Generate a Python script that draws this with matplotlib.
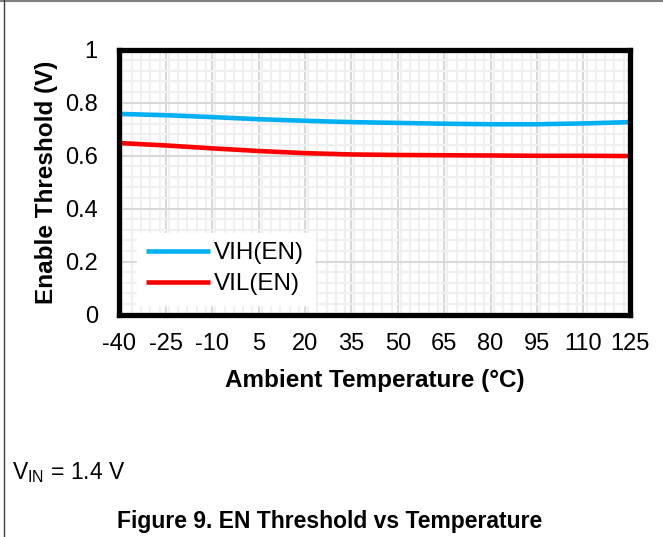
import numpy as np
import matplotlib.pyplot as plt
from matplotlib.ticker import MultipleLocator
from matplotlib.lines import Line2D

plt.rcParams['font.family'] = ['Liberation Sans', 'DejaVu Sans']
plt.rcParams['axes.unicode_minus'] = False

temp = [-40, -25, -10, 5, 20, 35, 50, 65, 80, 95, 110, 125]
vih = [0.757, 0.752, 0.745, 0.737, 0.731, 0.726, 0.723, 0.720, 0.718, 0.718, 0.721, 0.726]
vil = [0.647, 0.638, 0.627, 0.617, 0.609, 0.604, 0.602, 0.601, 0.600, 0.599, 0.599, 0.598]
xticks = list(range(-40, 126, 15))
yticks = [0, 0.2, 0.4, 0.6, 0.8, 1]

fig = plt.figure(figsize=(6.63, 5.37), dpi=100)
ax = fig.add_axes([0.180, 0.4143, 0.770, 0.4935])

ax.plot(temp, vih, color='#00B0F0', lw=3.3, label='VIH(EN)', solid_capstyle='butt')
ax.plot(temp, vil, color='#FF0000', lw=3.3, label='VIL(EN)', solid_capstyle='butt')

ax.set_xlim(-40, 125)
ax.set_ylim(0, 1)
ax.set_xticks(xticks)
ax.set_yticks(yticks)
ax.set_yticklabels(['0', '0.2', '0.4', '0.6', '0.8', '1'])
ax.xaxis.set_minor_locator(MultipleLocator(3))
ax.yaxis.set_minor_locator(MultipleLocator(0.04))
ax.grid(which='major', color='#d9d9d9', lw=1.5)
ax.grid(which='minor', color='#f0f0f0', lw=1.5)
ax.set_axisbelow(True)
ax.tick_params(which='both', length=0, labelsize=17)
ax.tick_params(axis='x', pad=13.5)
ax.tick_params(axis='y', pad=15.5)

for s in ax.spines.values():
    s.set_linewidth(3.8)
    s.set_color('black')

ax.set_xlabel('Ambient Temperature (°C)', fontsize=17.5, fontweight='bold', labelpad=10)
ax.set_ylabel('Enable Threshold (V)', fontsize=17.5, fontweight='bold', labelpad=5)

leg = ax.legend(loc='lower left', bbox_to_anchor=(0.034, 0.036), fontsize=17.5,
                frameon=True, fancybox=False, framealpha=1, edgecolor='white',
                facecolor='white', handlelength=2.6, handletextpad=0.18,
                labelspacing=0.37, borderpad=0.4, borderaxespad=0)

fig.text(12 / 663, 1 - 479 / 537, r'V$_{\mathregular{IN}}$ = 1.4 V', fontsize=16.5,
         va='baseline', ha='left')
fig.text(330 / 663, 1 - 528 / 537, 'Figure 9. EN Threshold vs Temperature',
         fontsize=16.5, fontweight='bold', ha='center', va='baseline')

# page border
fig.add_artist(Line2D([0, 1], [0.999, 0.999], transform=fig.transFigure, color='#808080', lw=1.5))
fig.add_artist(Line2D([3.5 / 663, 3.5 / 663], [0, 1], transform=fig.transFigure, color='#404040', lw=1.0))

fig.savefig('out.png', dpi=100)
